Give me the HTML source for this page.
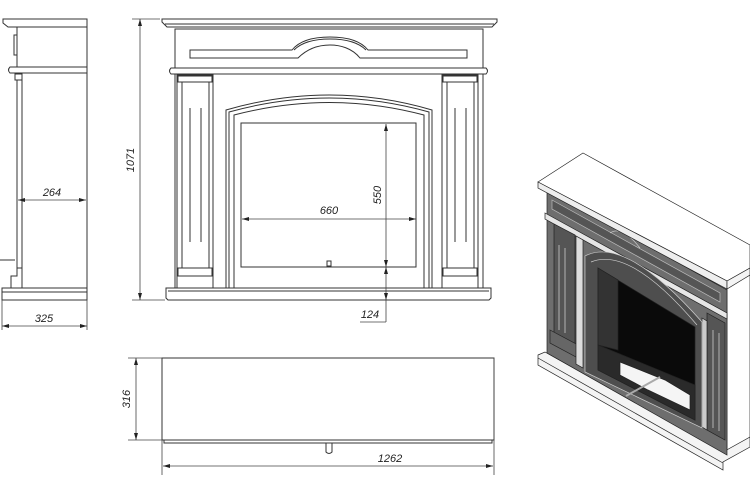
<!DOCTYPE html>
<html><head><meta charset="utf-8"><style>
html,body{margin:0;padding:0;background:#fff;}
svg{display:block;}
text{font-family:"Liberation Sans",sans-serif;font-style:italic;font-size:11px;fill:#222;}
</style></head><body>
<svg width="750" height="497" viewBox="0 0 750 497" xmlns="http://www.w3.org/2000/svg">
<g fill="none" stroke="#333" stroke-width="1">
<!-- FRONT VIEW -->
<path d="M162,19 H497 V22 L492,27 H167 L162,22 Z" fill="#fff"/>
<line x1="165" y1="24" x2="494" y2="24"/>
<rect x="175" y="29" width="308" height="39" fill="#fff"/>
<path d="M190,50 H292 C300,40 315,37 330,37 C345,37 360,40 368,50 H467 V58 H360 C352,48 340,45 330,45 C320,45 308,48 298,58 H190 Z" fill="#fff"/>
<path d="M294,50 C302,42 316,39 330,39 C344,39 358,42 366,50"/>
<path d="M171,68 H486 Q489,71 486,74 H171 Q168,71 171,68 Z" fill="#fff"/>
<rect x="175" y="74" width="308" height="214" fill="#fff"/>
<!-- pilasters -->
<rect x="177" y="75" width="36" height="213" fill="#fff"/>
<rect x="178" y="76" width="34" height="6" fill="#fff"/>
<rect x="182" y="82" width="27" height="186" fill="#fff"/>
<line x1="190" y1="108" x2="190" y2="242"/><line x1="201" y1="108" x2="201" y2="242"/>
<rect x="178" y="268" width="34" height="8" fill="#fff"/>
<rect x="442" y="75" width="36" height="213" fill="#fff"/>
<rect x="443" y="76" width="34" height="6" fill="#fff"/>
<rect x="447" y="82" width="27" height="186" fill="#fff"/>
<line x1="455" y1="108" x2="455" y2="242"/><line x1="466" y1="108" x2="466" y2="242"/>
<rect x="443" y="268" width="34" height="8" fill="#fff"/>
<!-- arch surround -->
<path d="M226,288 V110 Q330,80 432,110 V288"/>
<path d="M229,288 V112 Q330,84 429,112 V288"/>
<path d="M234,288 V115 Q330,90 424,115 V288"/>
<rect x="241" y="123" width="175" height="144" fill="#fff"/>
<rect x="327" y="261" width="4" height="5"/>
<!-- base -->
<path d="M166,288 H491 V298 L489,300 H168 L166,298 Z" fill="#fff"/>
<line x1="168" y1="291" x2="489" y2="291"/>
<!-- SIDE VIEW -->
<path d="M3,19 H87 V27 H8 L3,23 Z" fill="#fff"/>
<rect x="17" y="27" width="70" height="41" fill="#fff"/>
<rect x="14" y="35" width="3" height="20"/>
<path d="M10,67 H87 V73 H10 Q7,70 10,67 Z" fill="#fff"/>
<rect x="15" y="74" width="7" height="6"/>
<line x1="17" y1="80" x2="17" y2="268"/>
<line x1="22" y1="74" x2="22" y2="288"/>
<line x1="87" y1="73" x2="87" y2="300"/>
<path d="M11,288 V276 H17 V268 H22"/>
<line x1="0" y1="260" x2="15" y2="260"/>
<rect x="2" y="288" width="85" height="12" fill="#fff"/>
<line x1="2" y1="292" x2="87" y2="292"/>
<!-- TOP VIEW -->
<rect x="162" y="358" width="332" height="82"/>
<rect x="164" y="440" width="328" height="3"/>
<path d="M326,443 V452 Q329,455 332,452 V443"/>
</g>
<!-- dimensions -->
<g stroke="#444" stroke-width="0.8" fill="none">
<line x1="132" y1="19" x2="160" y2="19"/><line x1="132" y1="300" x2="165" y2="300"/>
<line x1="140" y1="19" x2="140" y2="300"/>
<line x1="386" y1="124" x2="386" y2="322"/><line x1="360" y1="322" x2="386" y2="322"/>
<line x1="242" y1="219" x2="416" y2="219"/>
<line x1="18" y1="200" x2="86" y2="200"/>
<line x1="2" y1="326" x2="87" y2="326"/>
<line x1="2" y1="300" x2="2" y2="330"/><line x1="87" y1="300" x2="87" y2="330"/>
<line x1="128" y1="358" x2="162" y2="358"/><line x1="128" y1="440" x2="162" y2="440"/>
<line x1="136" y1="358" x2="136" y2="440"/>
<line x1="162" y1="440" x2="162" y2="475"/><line x1="494" y1="358" x2="494" y2="475"/>
<line x1="163" y1="466" x2="493" y2="466"/>
</g>
<g fill="#222">
<path d="M140,19 l-2,7 h4z"/><path d="M140,300 l-2,-7 h4z"/>
<path d="M386,124 l-2,7 h4z"/><path d="M386,267 l-2,-7 h4z"/><path d="M386,267 l-2,7 h4z"/><path d="M386,300 l-2,-7 h4z"/>
<path d="M242,219 l7,-2 v4z"/><path d="M416,219 l-7,-2 v4z"/>
<path d="M18,200 l7,-2 v4z"/><path d="M86,200 l-7,-2 v4z"/>
<path d="M2,326 l7,-2 v4z"/><path d="M87,326 l-7,-2 v4z"/>
<path d="M136,358 l-2,7 h4z"/><path d="M136,440 l-2,-7 h4z"/>
<path d="M163,466 l7,-2 v4z"/><path d="M493,466 l-7,-2 v4z"/>
</g>
<text x="134" y="160" transform="rotate(-90 134 160)" text-anchor="middle">1071</text>
<text x="381" y="195" transform="rotate(-90 381 195)" text-anchor="middle">550</text>
<text x="329" y="214" text-anchor="middle">660</text>
<text x="370" y="318" text-anchor="middle">124</text>
<text x="52" y="196" text-anchor="middle">264</text>
<text x="44" y="322" text-anchor="middle">325</text>
<text x="130" y="399" transform="rotate(-90 130 399)" text-anchor="middle">316</text>
<text x="390" y="462" text-anchor="middle">1262</text>
<!-- ISOMETRIC -->
<g stroke="#222" stroke-width="0.7">
<!-- right side of mantel (white) -->
<polygon points="727,288 750,275 750,445 727,458" fill="#fff"/>
<!-- plinth -->
<polygon points="538,355 545,352 723,452 750,437 750,447 723,462 723,470 538,365" fill="#f4f4f4"/>
<line x1="538" y1="358" x2="723" y2="463"/>
<!-- front face -->
<polygon points="547,190 727,290 727,455 547,353" fill="#6e6e6e"/>
<!-- frieze band -->
<polygon points="552,200 720,293 720,302 552,209" fill="#555" stroke="#bbb"/>
<path d="M610,233 Q622,225 640,248" stroke="#ccc" fill="none"/>
<!-- molding -->
<polygon points="545,213 727,313 727,319 545,219" fill="#e6e6e6"/>
<!-- left pilaster -->
<polygon points="554,224 575,235 575,345 554,334" fill="#555"/>
<line x1="559" y1="245" x2="559" y2="330" stroke="#ddd"/>
<line x1="565" y1="248" x2="565" y2="333" stroke="#ddd"/>
<polygon points="550,330 578,345 578,358 550,343" fill="#666"/>
<polygon points="576,236 583,240 583,368 576,364" fill="#ddd"/>
<!-- right pilaster -->
<polygon points="707,313 725,323 725,440 707,430" fill="#555"/>
<line x1="713" y1="330" x2="713" y2="428" stroke="#ddd"/>
<line x1="719" y1="333" x2="719" y2="431" stroke="#ddd"/>
<polygon points="702,318 707,321 707,430 702,427" fill="#ccc"/>
<!-- arch surround -->
<path d="M585,256 Q625,235 702,322 V428 L585,372 Z" fill="#4e4e4e" stroke="#ccc"/>
<path d="M591,262 Q630,246 697,325" fill="none" stroke="#ccc"/>
<!-- opening -->
<polygon points="598,268 695,327 695,420 598,370" fill="#0a0a0a"/>
<polygon points="598,268 618,280 618,350 598,345" fill="#333"/>
<polygon points="598,345 695,385 695,420 598,370" fill="#2a2a2a"/>
<polygon points="620,362 665,380 690,395 690,410 648,390 620,375" fill="#f5f5f5"/>
<line x1="626" y1="396" x2="660" y2="377" stroke="#aaa" stroke-width="2"/>
<!-- slab -->
<polygon points="538,182 583,153 750,245 750,268 727,281" fill="#fff"/>
<polygon points="538,182 727,281 727,289 538,188" fill="#eee"/>
<polygon points="727,281 750,268 750,275 727,289" fill="#f4f4f4"/>
</g>
</svg>
</body></html>
